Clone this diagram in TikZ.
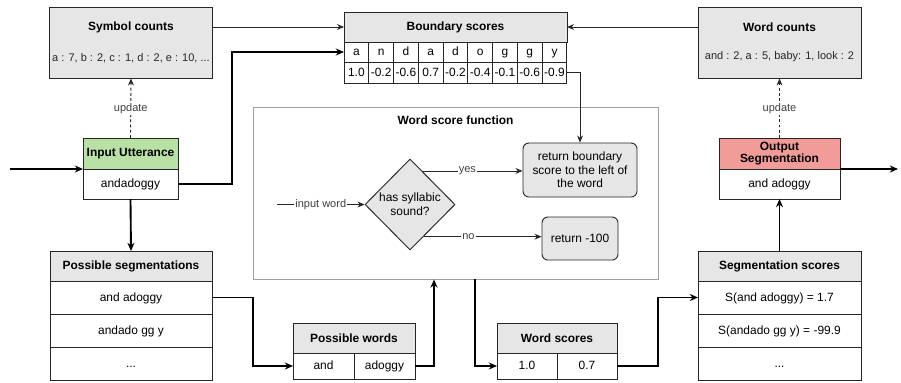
\documentclass[tikz,border=0pt]{standalone}
\usepackage{fontspec}
\setmainfont{Liberation Sans}
\usepackage{tikz}
\usetikzlibrary{positioning,calc,shapes.geometric,arrows.meta}

\definecolor{boxgrey}{HTML}{E6E6E6}
\definecolor{uttgreen}{HTML}{B9E0A5}
\definecolor{segred}{HTML}{F19C99}
\definecolor{framegrey}{HTML}{A0A0A0}

\newcommand{\boxfont}{\fontsize{10.2}{11.6}\selectfont}
\newcommand{\labelfont}{\fontsize{9.4}{11}\selectfont}

\begin{document}
\begin{tikzpicture}[
    x=0.03cm, y=-0.03cm,
    store/.style={rectangle, draw=black!85, fill=boxgrey, line width=0.8pt, minimum width=4.89cm, minimum height=2.13cm},
    title/.style={font=\boxfont\bfseries, inner sep=0pt},
    list/.style={font=\labelfont, text=black!85, inner sep=0pt},
    head/.style={rectangle, draw=black!85, fill=boxgrey, line width=0.8pt, outer sep=0pt, inner sep=0pt, minimum height=0.9cm, font=\boxfont\bfseries, align=center},
    cell/.style={rectangle, draw=black!85, fill=white, line width=0.8pt, outer sep=0pt, inner sep=0pt, text height=1.6ex, text depth=0.45ex, font=\boxfont},
    letter/.style={cell, minimum width=0.743cm, minimum height=0.6cm},
    score/.style={cell, minimum width=0.743cm, minimum height=0.63cm},
    frame/.style={rectangle, draw=framegrey, fill=white, line width=0.75pt, minimum width=12.15cm, minimum height=5.16cm},
    decision/.style={diamond, draw=black!85, fill=boxgrey, line width=0.8pt, minimum width=2.7cm, minimum height=2.73cm, inner sep=0pt, align=center, font=\boxfont},
    result/.style={rectangle, rounded corners=5pt, draw=black!85, fill=boxgrey, line width=0.8pt, align=center, font=\boxfont},
    arrow/.style={->, >={Stealth[length=7pt,width=6pt]}, line width=1.6pt},
    thinarrow/.style={->, >={Stealth[length=6pt,width=5pt]}, line width=0.75pt, draw=black!85},
    updatearrow/.style={thinarrow, dash pattern=on 2.5pt off 2pt},
    lbl/.style={fill=white, font=\labelfont, text=black!75, inner sep=1pt}
]
    \useasboundingbox (0,0) rectangle (901,382);

    % counts at the top
    \node[store] (symcounts) at (131,42.5) {};
    \node[title] (symtitle) at (131,27) {Symbol counts};
    \node[list] (symlist) at (131,58) {a : 7, b : 2, c : 1, d : 2, e : 10, ...};

    \node[store] (wcounts) at (779.5,42.5) {};
    \node[title] (wtitle) at (779.5,27) {Word counts};
    \node[list] (wlist) at (779.5,57) {and : 2, a : 5, baby: 1, look : 2};

    % boundary scores table
    \node[head, minimum width=6.69cm] (bhead) at (455.5,27) {Boundary scores};
    \node[letter, below right=0pt and 0pt of bhead.south west] (b1) {a};
    \node[letter, right=0pt of b1] (b2) {n};
    \node[letter, right=0pt of b2] (b3) {d};
    \node[letter, right=0pt of b3] (b4) {a};
    \node[letter, right=0pt of b4] (b5) {d};
    \node[letter, right=0pt of b5] (b6) {o};
    \node[letter, right=0pt of b6] (b7) {g};
    \node[letter, right=0pt of b7] (b8) {g};
    \node[letter, right=0pt of b8] (b9) {y};
    \node[score, below=0pt of b1] (v1) {1.0};
    \node[score, below=0pt of b2] (v2) {-0.2};
    \node[score, below=0pt of b3] (v3) {-0.6};
    \node[score, below=0pt of b4] (v4) {0.7};
    \node[score, below=0pt of b5] (v5) {-0.2};
    \node[score, below=0pt of b6] (v6) {-0.4};
    \node[score, below=0pt of b7] (v7) {-0.1};
    \node[score, below=0pt of b8] (v8) {-0.6};
    \node[score, below=0pt of b9] (v9) {-0.9};

    % input and output
    \node[head, fill=uttgreen, minimum width=2.85cm, minimum height=0.93cm] (iuhead) at (130.5,153.5) {Input Utterance};
    \node[cell, minimum width=2.85cm, minimum height=0.9cm, below=0pt of iuhead] (iubody) {andadoggy};

    \node[head, fill=segred, minimum width=3.63cm, minimum height=0.93cm] (oshead) at (779.5,153.5) {Output\\[-1pt]Segmentation};
    \node[cell, minimum width=3.63cm, minimum height=0.9cm, below=0pt of oshead] (osbody) {and adoggy};

    % word score function
    \node[frame] (wsf) at (455.5,193) {};
    \node[title] (wsftitle) at (455.5,120) {Word score function};
    \node[decision] (dia) at (410,204.5) {has syllabic\\sound?};
    \node[result, minimum width=3.42cm, minimum height=1.62cm] (retb) at (580,170) {return boundary\\score to the left of\\the word};
    \node[result, minimum width=2.28cm, minimum height=1.29cm] (retn) at (580,238.5) {return -100};

    % tables at the bottom
    \node[head, minimum width=4.86cm] (pshead) at (131,266) {Possible segmentations};
    \node[cell, minimum width=4.86cm, minimum height=0.99cm, below=0pt of pshead] (ps1) {and adoggy};
    \node[cell, minimum width=4.86cm, minimum height=0.99cm, below=0pt of ps1] (ps2) {andado gg y};
    \node[cell, minimum width=4.86cm, minimum height=0.99cm, below=0pt of ps2] (ps3) {...};

    \node[head, minimum width=3.66cm] (pwhead) at (354,338) {Possible words};
    \node[cell, minimum width=1.83cm, minimum height=0.78cm, below right=0pt and 0pt of pwhead.south west] (pw1) {and};
    \node[cell, minimum width=1.83cm, minimum height=0.78cm, right=0pt of pw1] (pw2) {adoggy};

    \node[head, minimum width=3.6cm] (wshead) at (557,338) {Word scores};
    \node[cell, minimum width=1.8cm, minimum height=0.78cm, below right=0pt and 0pt of wshead.south west] (ws1) {1.0};
    \node[cell, minimum width=1.8cm, minimum height=0.78cm, right=0pt of ws1] (ws2) {0.7};

    \node[head, minimum width=4.89cm] (sshead) at (779.5,266) {Segmentation scores};
    \node[cell, minimum width=4.89cm, minimum height=0.99cm, below=0pt of sshead] (ss1) {S(and adoggy) = 1.7};
    \node[cell, minimum width=4.89cm, minimum height=0.99cm, below=0pt of ss1] (ss2) {S(andado gg y) = -99.9};
    \node[cell, minimum width=4.89cm, minimum height=0.99cm, below=0pt of ss2] (ss3) {...};

    \coordinate (start) at (10,169);
    \coordinate (finish) at (898,169);
    \coordinate (wordin) at (277,204.5);
    \coordinate (yesstart) at ($(dia.north)!0.27!(dia.east)$);
    \coordinate (nostart) at ($(dia.south)!0.3!(dia.east)$);

    % connectors
    \draw[arrow] (start) -- (iuhead.south west);
    \draw[arrow] (iubody.east) -- ++(54,0) |- (b1.west);
    \draw[thinarrow] (bhead.west -| symcounts.east) -- (bhead.west);
    \draw[thinarrow] (bhead.east -| wcounts.west) -- (bhead.east);
    \draw[updatearrow] (iuhead.north) -- node[lbl] {update} (symcounts.south);
    \draw[updatearrow] (oshead.north) -- node[lbl] {update} (wcounts.south);
    \draw[thinarrow] (v9.east) -| (retb.north);
    \draw[thinarrow] (wordin) -- node[lbl] {input word} (dia.west);
    \draw[thinarrow] (yesstart) -- node[lbl, pos=0.45] {yes} (yesstart -| retb.west);
    \draw[thinarrow] (nostart) -- node[lbl, pos=0.38] {no} (nostart -| retn.west);
    \draw[arrow] (iubody.south) -- (pshead.north);
    \draw[arrow] (ps1.east) -- ++(41,0) |- (pw1.west);
    \draw[arrow] (pw2.east) -| ($(wsf.south)+(-21.5,0)$);
    \draw[arrow] ($(wsf.south)+(19.5,0)$) |- (ws1.west);
    \draw[arrow] (ws2.east) -- ++(41,0) |- (ss1.west);
    \draw[arrow] (sshead.north) -- (osbody.south);
    \draw[arrow] (oshead.south east) -- (finish);
\end{tikzpicture}
\end{document}
